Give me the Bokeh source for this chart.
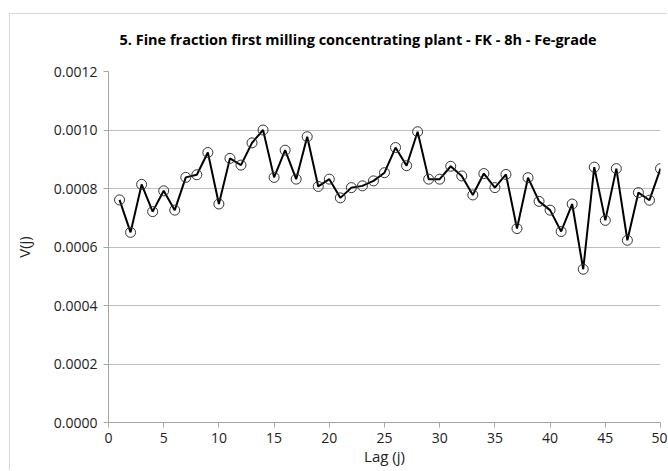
from bokeh.plotting import figure
from bokeh.models import NumeralTickFormatter, FixedTicker, Title
from bokeh.embed import file_html
from bokeh.resources import INLINE

lags = list(range(1, 51))
v = [0.000761, 0.000650, 0.000814, 0.000721, 0.000792, 0.000726, 0.000838, 0.000847, 0.000923, 0.000747,
     0.000903, 0.000880, 0.000956, 0.001000, 0.000838, 0.000931, 0.000832, 0.000977, 0.000807, 0.000832,
     0.000768, 0.000803, 0.000809, 0.000826, 0.000854, 0.000940, 0.000878, 0.000994, 0.000832, 0.000832,
     0.000876, 0.000843, 0.000778, 0.000851, 0.000803, 0.000848, 0.000663, 0.000837, 0.000756, 0.000726,
     0.000653, 0.000747, 0.000524, 0.000873, 0.000691, 0.000868, 0.000623, 0.000786, 0.000760, 0.000868]
x_ticks = [0, 5, 10, 15, 20, 25, 30, 35, 40, 45, 50]
y_ticks = [0.0, 0.0002, 0.0004, 0.0006, 0.0008, 0.0010, 0.0012]
title = "5. Fine fraction first milling concentrating plant - FK - 8h - Fe-grade"

FONT = "Open Sans"
p = figure(width=658, height=457, output_backend="svg", toolbar_location=None,
           x_range=(0, 50), y_range=(0, 0.0012), title=None,
           min_border_left=98, min_border_right=8, min_border_top=0, min_border_bottom=49)
p.styles = {"margin-left": "9px", "margin-top": "13px",
            "border-left": "1px solid #d9d9d9", "border-top": "1px solid #d9d9d9"}
p.outline_line_color = None

# spacer between title and plot frame
p.add_layout(Title(text=" ", text_font=FONT, text_font_size="6px", standoff=0), "above")
p.add_layout(Title(text=title, text_font=FONT, text_font_style="bold", text_font_size="14.5px",
                   text_color="#000000", align="left", offset=11, standoff=26), "above")

p.line(lags, v, line_color="black", line_width=2)
p.scatter(lags, v, size=10, fill_color=None, line_color="#333333", line_width=1)

p.xgrid.grid_line_color = None
p.ygrid.grid_line_color = "#bfbfbf"
p.ygrid.grid_line_width = 1

p.xaxis.ticker = FixedTicker(ticks=x_ticks)
p.yaxis.ticker = FixedTicker(ticks=y_ticks)
p.yaxis.formatter = NumeralTickFormatter(format="0.0000")
for ax in (p.xaxis, p.yaxis):
    ax.axis_line_color = "#a6a6a6"
    ax.major_tick_line_color = "#a6a6a6"
    ax.major_tick_out = 5
    ax.major_tick_in = 0
    ax.minor_tick_line_color = None
    ax.major_label_text_font = FONT
    ax.major_label_text_font_size = "14px"
    ax.major_label_text_color = "#222222"
    ax.axis_label_text_font = FONT
    ax.axis_label_text_font_size = "15px"
    ax.axis_label_text_font_style = "normal"
    ax.axis_label_text_color = "#222222"
p.xaxis.axis_label = "Lag (j)"
p.yaxis.axis_label = "V(j)"
p.xaxis.major_label_standoff = 5
p.yaxis.major_label_standoff = 6
p.yaxis.axis_label_standoff = 17
p.xaxis.axis_label_standoff = 0

open("out.html", "w").write(file_html(p, INLINE))
